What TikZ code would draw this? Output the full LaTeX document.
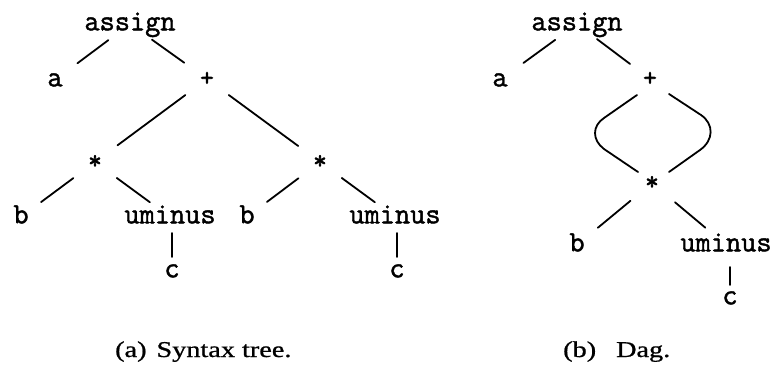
\documentclass[tikz,border=0pt]{standalone}
\usepackage{fontspec}
\setmainfont{Liberation Serif}
\newfontfamily\treefont{Latin Modern Mono}[FakeBold=1.5]
\newfontfamily\symfont{Latin Modern Mono}[FakeBold=2.5]
\newfontfamily\capfont{Liberation Serif}[FakeBold=0.8]
\usetikzlibrary{calc}
\begin{document}
\begin{tikzpicture}[x=1pt,y=-1pt,
  lbl/.style={font=\treefont\fontsize{29.5}{30}\selectfont, inner sep=0pt, text height=12.7pt, text depth=0pt},
  sym/.style={font=\symfont\fontsize{26}{26}\selectfont, inner sep=0pt},
  ln/.style={line width=1.8pt, line cap=round},
  captxt/.style={font=\capfont\fontsize{22.6}{24}\selectfont, inner sep=0pt, anchor=base west}]
\useasboundingbox (0,0) rectangle (773,366);
% ---------- (a) syntax tree ----------
\node[lbl] (A1) at (130,24) {assign};
\node[lbl] (a1) at (55,80) {a};
\node[sym] (p1) at (207,79) {+};
\node[sym] (m1) at (95,162) {*};
\node[sym] (m2) at (320,162) {*};
\node[lbl] (b1) at (21,217) {b};
\node[lbl] (u1) at (170,217) {uminus};
\node[lbl] (b2) at (247,217) {b};
\node[lbl] (u2) at (395,217) {uminus};
\node[lbl] (c1) at (172,271) {c};
\node[lbl] (c2) at (397,271) {c};
\draw[ln, shorten <=27pt, shorten >=28pt] (A1.center) -- (a1.center);
\draw[ln, shorten <=27pt, shorten >=28pt] (A1.center) -- (p1.center);
\draw[ln, shorten <=27pt, shorten >=28pt] (p1.center) -- (m1.center);
\draw[ln, shorten <=27pt, shorten >=27pt] (p1.center) -- (m2.center);
\draw[ln, shorten <=27pt, shorten >=25pt] (m1.center) -- (b1.center);
\draw[ln, shorten <=27pt, shorten >=25pt] (m1.center) -- (u1.center);
\draw[ln, shorten <=27pt, shorten >=25pt] (m2.center) -- (b2.center);
\draw[ln, shorten <=27pt, shorten >=25pt] (m2.center) -- (u2.center);
\draw[ln, shorten <=16pt, shorten >=14pt] (u1 -| c1) -- (c1.center);
\draw[ln, shorten <=16pt, shorten >=14pt] (u2 -| c2) -- (c2.center);
\node[captxt] (capa) at (115,357) {\scalebox{1.25}[1]{(a)\hspace{8pt}Syntax tree.}};
% ---------- (b) dag ----------
\node[lbl] (A2) at (577,24) {assign};
\node[lbl] (a2) at (500,80) {a};
\node[sym] (p2) at (650,79) {+};
\node[sym] (m3) at (652,183) {*};
\node[lbl] (b3) at (577,245) {b};
\node[lbl] (u3) at (726,245) {uminus};
\node[lbl] (c3) at (730,298) {c};
\draw[ln, shorten <=27pt, shorten >=29pt] (A2.center) -- (a2.center);
\draw[ln, shorten <=25pt, shorten >=25pt] (A2.center) -- (p2.center);
\draw[ln] ($(p2)+(-13,16)$) -- ($(p2)+(-46,39)$)
  .. controls ($(p2)+(-58,47)$) and ($(p2)+(-58,61)$) .. ($(p2)+(-46,70)$)
  -- ($(m3)+(-14,-11)$);
\draw[ln] ($(p2)+(19,15)$) -- ($(p2)+(51,36)$)
  .. controls ($(p2)+(64,45)$) and ($(p2)+(64,61)$) .. ($(p2)+(50,71)$)
  -- ($(m3)+(17,-11)$);
\draw[ln, shorten <=28pt, shorten >=27pt] (m3.center) -- (b3.center);
\draw[ln, shorten <=30pt, shorten >=27pt] (m3.center) -- (u3.center);
\draw[ln, shorten <=22pt, shorten >=13pt] (u3 -| c3) -- (c3.center);
\node[captxt] (capb) at (563,357) {\scalebox{1.25}[1]{(b)\hspace{16pt}Dag.}};
\end{tikzpicture}
\end{document}
